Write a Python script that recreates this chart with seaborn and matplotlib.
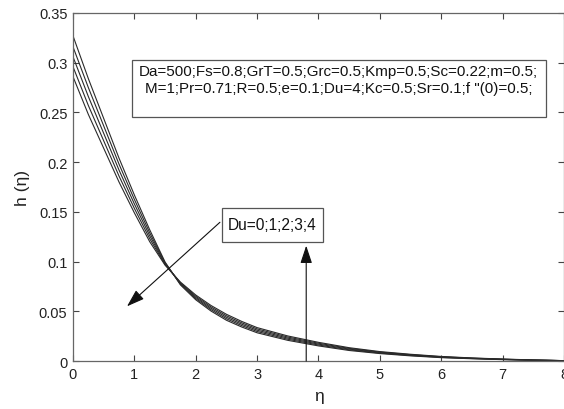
import numpy as np
import pandas as pd
import matplotlib
matplotlib.use("Agg")
import matplotlib.pyplot as plt
from matplotlib.patches import Rectangle
import seaborn as sns

eta = [0, 0.25, 0.5, 0.75, 1.0, 1.25, 1.5, 1.75, 2.0, 2.25, 2.5, 2.75, 3.0,
       3.5, 4.0, 4.5, 5.0, 5.5, 6.0, 6.5, 7.0, 7.5, 8.0]

h_du4 = [0.327, 0.284, 0.244, 0.204, 0.167, 0.132, 0.0996, 0.0766, 0.0616, 0.0502,
         0.041, 0.0342, 0.0284, 0.0208, 0.0152, 0.0106, 0.0075, 0.0052, 0.0034,
         0.0023, 0.0014, 0.0007, 0.0004]
h_du3 = [0.316, 0.275, 0.2365, 0.198, 0.1625, 0.129, 0.0988, 0.0773, 0.0628, 0.0516,
         0.0425, 0.0356, 0.0297, 0.0219, 0.0161, 0.0113, 0.008, 0.0056, 0.0037,
         0.0025, 0.00155, 0.0008, 0.0004]
h_du2 = [0.306, 0.266, 0.229, 0.192, 0.158, 0.126, 0.098, 0.078, 0.064, 0.053,
         0.044, 0.037, 0.031, 0.023, 0.017, 0.012, 0.0085, 0.006, 0.004,
         0.0027, 0.0017, 0.0009, 0.0004]
h_du1 = [0.296, 0.257, 0.2215, 0.186, 0.1535, 0.123, 0.0972, 0.0787, 0.0652, 0.0544,
         0.0455, 0.0384, 0.0323, 0.0241, 0.0179, 0.0127, 0.009, 0.0064, 0.0043,
         0.0029, 0.00185, 0.001, 0.0004]
h_du0 = [0.286, 0.248, 0.214, 0.180, 0.149, 0.120, 0.0964, 0.0794, 0.0664, 0.0558,
         0.047, 0.0398, 0.0336, 0.0252, 0.0188, 0.0134, 0.0095, 0.0068, 0.0046,
         0.0031, 0.002, 0.0011, 0.0004]

du_values = [0, 1, 2, 3, 4]
series = [h_du0, h_du1, h_du2, h_du3, h_du4]

x_ticks = [0, 1, 2, 3, 4, 5, 6, 7, 8]
y_ticks = [0, 0.05, 0.1, 0.15, 0.2, 0.25, 0.3, 0.35]
y_tick_labels = ["0", "0.05", "0.1", "0.15", "0.2", "0.25", "0.3", "0.35"]

params_line1 = "Da=500;Fs=0.8;GrT=0.5;Grc=0.5;Kmp=0.5;Sc=0.22;m=0.5;"
params_line2 = "M=1;Pr=0.71;R=0.5;e=0.1;Du=4;Kc=0.5;Sr=0.1;f \"(0)=0.5;"
du_label = "Du=0;1;2;3;4"

rows = []
for du, vals in zip(du_values, series):
    for e, v in zip(eta, vals):
        rows.append({"eta": e, "h": v, "Du": du})
df = pd.DataFrame(rows)

sns.set_theme(style="white")
plt.rcParams['font.family'] = ['Liberation Sans', 'DejaVu Sans']

fig = plt.figure(figsize=(5.64, 4.10), dpi=100)
ax = fig.add_axes([0.1294, 0.117, 0.8706, 0.849])

sns.lineplot(data=df, x="eta", y="h", hue="Du", palette=["#2a2a2a"] * 5,
             linewidth=0.8, legend=False, ax=ax)

ax.set_xlim(0, 8)
ax.set_ylim(0, 0.35)
ax.set_xticks(x_ticks)
ax.set_xticklabels([str(t) for t in x_ticks])
ax.set_yticks(y_ticks)
ax.set_yticklabels(y_tick_labels)
ax.tick_params(direction="in", length=4, width=0.8, colors="#444444",
               labelcolor="#222222", labelsize=10.5, top=True, right=True,
               bottom=True, left=True, pad=4)
for s in ax.spines.values():
    s.set_color("#666666")
    s.set_linewidth(0.9)

ax.set_xlabel("η", fontsize=12.5, color="#222222", labelpad=5)
ax.set_ylabel("h (η)", fontsize=12.5, color="#222222", labelpad=6)

# parameter box
ax.add_patch(Rectangle((0.966, 0.2454), 7.70 - 0.966, 0.3027 - 0.2454,
                       fill=False, edgecolor="#555555", linewidth=0.9))
ax.text(4.33, 0.2917, params_line1, ha="center", va="center", fontsize=10.9,
        color="#111111")
ax.text(4.33, 0.2745, params_line2, ha="center", va="center", fontsize=10.9,
        color="#111111")

# Du box
ax.add_patch(Rectangle((2.42, 0.120), 4.07 - 2.42, 0.154 - 0.120,
                       fill=False, edgecolor="#555555", linewidth=0.9))
ax.text(3.25, 0.137, du_label, ha="center", va="center", fontsize=11.2,
        color="#111111")

arrow_props = dict(arrowstyle="-|>,head_length=0.9,head_width=0.3",
                   color="#111111", linewidth=0.8, shrinkA=0, shrinkB=0)
ax.annotate("", xy=(0.88, 0.055), xytext=(2.394, 0.1395), arrowprops=arrow_props)
ax.annotate("", xy=(3.80, 0.116), xytext=(3.80, 0.0), arrowprops=arrow_props)

fig.savefig("out.png", dpi=100)
